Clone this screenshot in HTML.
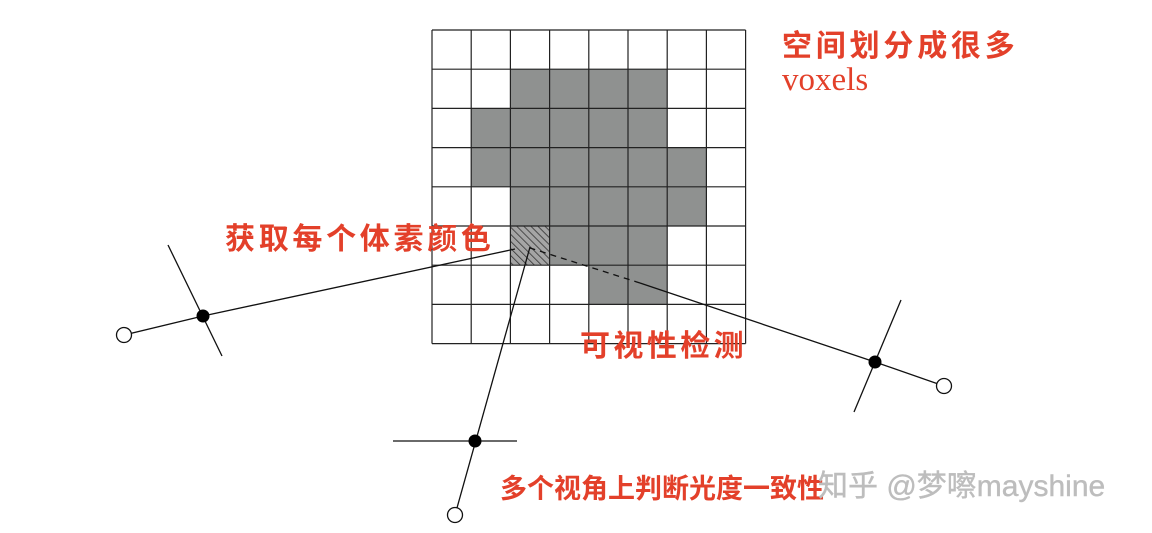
<!DOCTYPE html>
<html><head><meta charset="utf-8"><style>
html,body{margin:0;padding:0;background:#fff;}
svg{display:block;}
.red{fill:#e3402a;font-family:"Liberation Sans","Noto Sans CJK SC",sans-serif;font-weight:bold;}
</style></head><body>
<svg width="1152" height="533" viewBox="0 0 1152 533">
<defs>
<pattern id="hatch" width="5" height="5" patternUnits="userSpaceOnUse" patternTransform="rotate(-45)">
<rect width="5" height="5" fill="#a5a5a5"/><line x1="0" y1="0" x2="0" y2="5" stroke="#333" stroke-width="1.6"/>
</pattern>
</defs>
<g id="grid"></g>
<g>
<line x1="168" y1="245" x2="222" y2="356" stroke="#111" stroke-width="1.3"/>
<line x1="124" y1="335" x2="203" y2="316" stroke="#111" stroke-width="1.3"/>
<line x1="203" y1="316" x2="515" y2="249" stroke="#111" stroke-width="1.3"/>
<circle cx="203" cy="316" r="6.5" fill="#000"/>
<circle cx="124" cy="335" r="7.5" fill="#fff" stroke="#111" stroke-width="1.3"/>
</g>
<g>
<line x1="393" y1="441" x2="517" y2="441" stroke="#111" stroke-width="1.3"/>
<line x1="455" y1="515" x2="530" y2="247" stroke="#111" stroke-width="1.3"/>
<circle cx="475" cy="441" r="6.5" fill="#000"/>
<circle cx="455" cy="515" r="7.5" fill="#fff" stroke="#111" stroke-width="1.3"/>
</g>
<g>
<line x1="901" y1="300" x2="854" y2="412" stroke="#111" stroke-width="1.3"/>
<line x1="944" y1="386" x2="875" y2="362" stroke="#111" stroke-width="1.3"/>
<line x1="875" y1="362" x2="640" y2="283" stroke="#111" stroke-width="1.3"/>
<line x1="640" y1="283" x2="530" y2="248" stroke="#111" stroke-width="1.3" stroke-dasharray="6,5"/>
<circle cx="875" cy="362" r="6.5" fill="#000"/>
<circle cx="944" cy="386" r="7.5" fill="#fff" stroke="#111" stroke-width="1.3"/>
</g>
<text class="red" x="782" y="56" font-size="30" letter-spacing="3.8">空间划分成很多</text>
<text x="782" y="90" font-size="33" fill="#e3402a" font-family="Liberation Serif, serif">voxels</text>
<text class="red" x="225" y="249" font-size="30" letter-spacing="3.7">获取每个体素颜色</text>
<text class="red" x="580" y="356" font-size="30" letter-spacing="3.4">可视性检测</text>
<text class="red" x="500" y="498" font-size="27">多个视角上判断光度一致性</text>
<text x="818" y="496" font-size="30" fill="#bdbdbd" stroke="#bdbdbd" stroke-width="0.4" font-family="Liberation Sans, Noto Sans CJK SC, sans-serif">知乎 @梦嚓mayshine</text>
</svg>
<script>
const rows = 8, cols = 8;
const grayCells = [[1,2],[1,3],[1,4],[1,5],[2,1],[2,2],[2,3],[2,4],[2,5],[3,1],[3,2],[3,3],[3,4],[3,5],[3,6],[4,2],[4,3],[4,4],[4,5],[4,6],[5,3],[5,4],[5,5],[6,4],[6,5]];
const hatchedCells = [[5,2]];
const g = document.getElementById('grid');
const x0 = 432, y0 = 30, cs = 39.2;
const NS = 'http://www.w3.org/2000/svg';
function cell(r,c,fill,name){
  const e = document.createElementNS(NS,'rect');
  e.setAttribute('x', x0+c*cs); e.setAttribute('y', y0+r*cs);
  e.setAttribute('width', cs); e.setAttribute('height', cs);
  e.setAttribute('fill', fill);
  
  
  g.appendChild(e);
}
grayCells.forEach(([r,c])=>cell(r,c,'#8f9190','occupied-voxel'));
hatchedCells.forEach(([r,c])=>cell(r,c,'url(#hatch)','target-voxel'));
for(let i=0;i<=rows;i++){
  const l = document.createElementNS(NS,'line');
  l.setAttribute('x1', x0); l.setAttribute('x2', x0+cols*cs);
  l.setAttribute('y1', y0+i*cs); l.setAttribute('y2', y0+i*cs);
  l.setAttribute('stroke','#222'); l.setAttribute('stroke-width','1.2');
  
  
  g.appendChild(l);
}
for(let i=0;i<=cols;i++){
  const l = document.createElementNS(NS,'line');
  l.setAttribute('y1', y0); l.setAttribute('y2', y0+rows*cs);
  l.setAttribute('x1', x0+i*cs); l.setAttribute('x2', x0+i*cs);
  l.setAttribute('stroke','#222'); l.setAttribute('stroke-width','1.2');
  
  
  g.appendChild(l);
}
</script>
</body></html>
